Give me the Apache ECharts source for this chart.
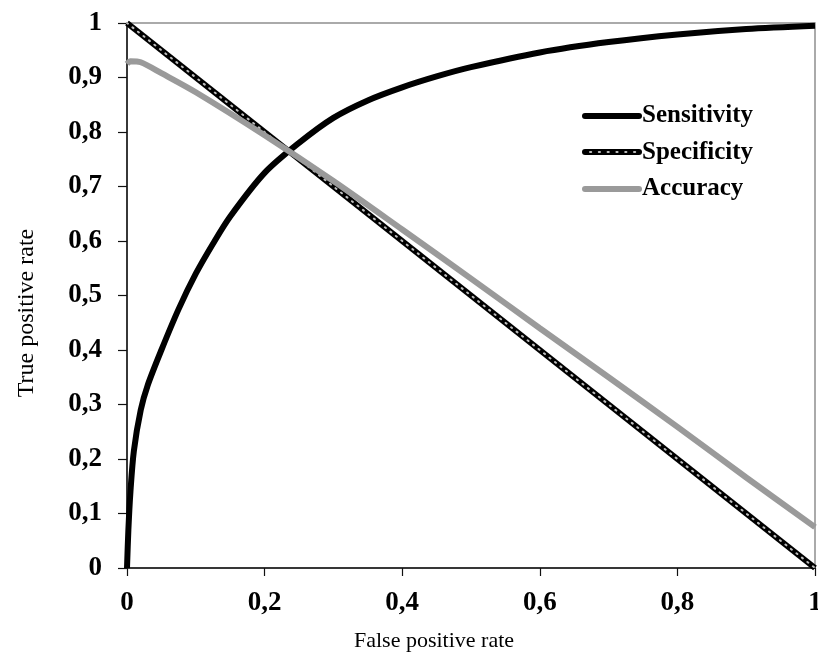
<!DOCTYPE html>
<html>
<head>
<meta charset="utf-8">
<style>
  html, body { margin: 0; padding: 0; background: #fff; }
  #chart { width: 818px; height: 653px; }
</style>
<script src="https://cdn.jsdelivr.net/npm/echarts@6/dist/echarts.min.js"></script>
</head>
<body>
<div id="chart"></div>
<script>
// False positive rate / value pairs for each curve
const sensitivityFpr = [0, 0.002, 0.005, 0.01, 0.02, 0.03, 0.05, 0.075, 0.1, 0.125, 0.15, 0.2, 0.25, 0.3, 0.35, 0.4, 0.45, 0.5, 0.6, 0.7, 0.8, 0.9, 1];
const sensitivity    = [0, 0.07, 0.14, 0.215, 0.29, 0.335, 0.40, 0.475, 0.54, 0.595, 0.645, 0.725, 0.78, 0.826, 0.858, 0.882, 0.902, 0.919, 0.946, 0.965, 0.979, 0.989, 0.995];

const specificityFpr = [0, 1];
const specificity    = [1, 0];

const accuracyFpr = [0, 0.005, 0.02, 0.05, 0.1, 0.2, 0.3, 0.4, 0.5, 0.6, 0.7, 0.8, 0.9, 1];
const accuracy    = [0.925, 0.93, 0.928, 0.908, 0.873, 0.794, 0.71, 0.621, 0.531, 0.44, 0.35, 0.259, 0.166, 0.075];

const xTicks = [0, 0.2, 0.4, 0.6, 0.8, 1];
const yTicks = [0, 0.1, 0.2, 0.3, 0.4, 0.5, 0.6, 0.7, 0.8, 0.9, 1];

const legendNames = ['Sensitivity', 'Specificity', 'Accuracy'];

const pairs = (xs, ys) => xs.map((x, i) => [x, ys[i]]);
const fmt = v => String(Math.round(v * 10) / 10).replace('.', ',');

const serif = '"Liberation Serif", "Times New Roman", serif';

const chart = echarts.init(document.getElementById('chart'), null, { renderer: 'canvas' });

chart.setOption({
  animation: false,
  backgroundColor: '#fff',
  grid: {
    left: 127, right: 3, top: 23, bottom: 85,
    containLabel: false, outerBoundsMode: 'none',
    show: true, borderColor: '#8f8f8f', borderWidth: 1.5
  },
  xAxis: {
    type: 'value', min: 0, max: 1, interval: 0.2,
    axisLine: { lineStyle: { color: '#111', width: 1.5 } },
    axisTick: { show: true, length: 8, lineStyle: { color: '#111', width: 1.2 } },
    splitLine: { show: false },
    axisLabel: {
      margin: 22, color: '#000', fontFamily: serif, fontWeight: 'bold', fontSize: 27,
      hideOverlap: false,
      formatter: v => xTicks.includes(Math.round(v * 10) / 10) ? fmt(v) : ''
    }
  },
  yAxis: {
    type: 'value', min: 0, max: 1, interval: 0.1,
    axisLine: { show: true, lineStyle: { color: '#111', width: 1.5 } },
    axisTick: { show: true, length: 9, lineStyle: { color: '#111', width: 1.2 } },
    splitLine: { show: false },
    axisLabel: {
      margin: 25, color: '#000', fontFamily: serif, fontWeight: 'bold', fontSize: 27,
      formatter: v => yTicks.includes(Math.round(v * 10) / 10) ? fmt(v) : ''
    }
  },
  series: [
    {
      name: 'Sensitivity', type: 'line', data: pairs(sensitivityFpr, sensitivity),
      smooth: 0.3, symbol: 'none', z: 2,
      lineStyle: { color: '#000', width: 6 }
    },
    {
      name: 'Specificity', type: 'line', data: pairs(specificityFpr, specificity),
      symbol: 'none', z: 3,
      lineStyle: { color: '#000', width: 6 }
    },
    {
      name: 'Specificity dots', type: 'line', data: pairs(specificityFpr, specificity),
      symbol: 'none', z: 4,
      lineStyle: { color: '#bdbdbd', width: 2, type: [1.2, 5.8], cap: 'round' }
    },
    {
      name: 'Accuracy', type: 'line', data: pairs(accuracyFpr, accuracy),
      smooth: 0.3, symbol: 'none', z: 5,
      lineStyle: { color: '#9a9a9a', width: 6 }
    }
  ],
  graphic: [
    // legend
    { type: 'line', shape: { x1: 585, y1: 116, x2: 639, y2: 116 }, style: { stroke: '#000', lineWidth: 6, lineCap: 'round' } },
    { type: 'line', shape: { x1: 585, y1: 152, x2: 639, y2: 152 }, style: { stroke: '#000', lineWidth: 6, lineCap: 'round' } },
    { type: 'line', shape: { x1: 590, y1: 152, x2: 636, y2: 152 }, style: { stroke: '#bdbdbd', lineWidth: 2, lineDash: [1.2, 7.6], lineCap: 'round' } },
    { type: 'line', shape: { x1: 585, y1: 189, x2: 639, y2: 189 }, style: { stroke: '#9a9a9a', lineWidth: 6, lineCap: 'round' } },
    { type: 'text', x: 642, y: 116, style: { text: legendNames[0], font: 'bold 25px ' + serif, fill: '#000', textVerticalAlign: 'middle' } },
    { type: 'text', x: 642, y: 153, style: { text: legendNames[1], font: 'bold 25px ' + serif, fill: '#000', textVerticalAlign: 'middle' } },
    { type: 'text', x: 642, y: 189, style: { text: legendNames[2], font: 'bold 25px ' + serif, fill: '#000', textVerticalAlign: 'middle' } },
    // axis titles
    { type: 'text', x: 434, y: 641, style: { text: 'False positive rate', font: '22px ' + serif, fill: '#000', textAlign: 'center', textVerticalAlign: 'middle' } },
    { type: 'text', x: 27, y: 313, rotation: Math.PI / 2, style: { text: 'True positive rate', font: '24px ' + serif, fill: '#000', textAlign: 'center', textVerticalAlign: 'middle' } }
  ]
});
</script>
</body>
</html>
